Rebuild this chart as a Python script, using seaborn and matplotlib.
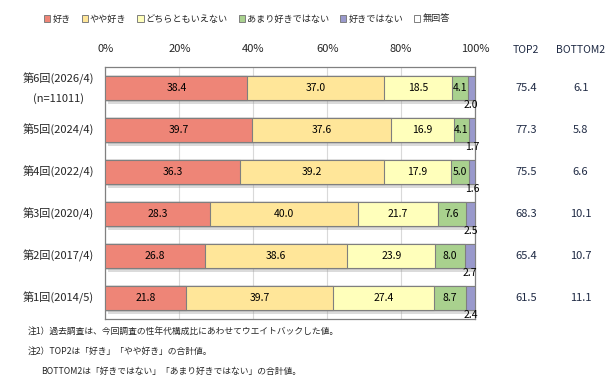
import numpy as np
import pandas as pd
import matplotlib
matplotlib.use("Agg")
import matplotlib.pyplot as plt
import matplotlib.patheffects as pe
from matplotlib.patches import Patch
import seaborn as sns

# data
waves = ["第6回(2026/4)\n(n=11011)", "第5回(2024/4)", "第4回(2022/4)",
         "第3回(2020/4)", "第2回(2017/4)", "第1回(2014/5)"]
answers = ["好き", "やや好き", "どちらともいえない", "あまり好きではない", "好きではない", "無回答"]
suki = [38.4, 39.7, 36.3, 28.3, 26.8, 21.8]
yaya = [37.0, 37.6, 39.2, 40.0, 38.6, 39.7]
dochira = [18.5, 16.9, 17.9, 21.7, 23.9, 27.4]
amari = [4.1, 4.1, 5.0, 7.6, 8.0, 8.7]
sukidenai = [2.0, 1.7, 1.6, 2.5, 2.7, 2.4]
mukaito = [0.0, 0.0, 0.0, 0.0, 0.0, 0.0]
top2 = ["75.4", "77.3", "75.5", "68.3", "65.4", "61.5"]
bottom2 = ["6.1", "5.8", "6.6", "10.1", "10.7", "11.1"]

colors = ["#EE8577", "#FFE699", "#FFFFBB", "#A9D18E", "#9999CC", "#FFFFFF"]

sns.set_theme(style="white")
plt.rcParams["font.family"] = ["Noto Sans CJK JP", "DejaVu Sans"]

series = [suki, yaya, dochira, amari, sukidenai, mukaito]
vals = np.array(series)
cum = np.cumsum(vals, axis=0)
left = cum - vals

fig = plt.figure(figsize=(6.08, 3.87), dpi=100)
ax = fig.add_axes([0.1735, 0.1757, 0.6077, 0.6512])

bw = 0.58
# layered bars: widest cumulative first
for k in range(len(answers) - 1, -1, -1):
    df = pd.DataFrame({"wave": waves, "x": cum[k]})
    sns.barplot(data=df, x="x", y="wave", orient="h", order=waves,
                color=colors[k], saturation=1, width=bw,
                edgecolor="#7F7F7F", linewidth=0.8, ax=ax, zorder=3)

# shadow on the outermost bars
for p in ax.patches[:len(waves)]:
    p.set_path_effects([pe.SimplePatchShadow(offset=(1.5, -3), shadow_rgbFace="#999999", alpha=0.35),
                        pe.Normal()])

# labels
for k in range(5):
    for i in range(len(waves)):
        v = vals[k, i]
        xc = left[k, i] + v / 2
        if k == 4:
            ax.text(xc, i + bw / 2, f"{v:.1f}", ha="center", va="top",
                    fontsize=7.5, color="#000000", zorder=5)
        else:
            ax.text(xc, i, f"{v:.1f}", ha="center", va="center",
                    fontsize=7.5, color="#000000", zorder=5)

ax.set_xlim(0, 100)
ax.set_ylim(5.5, -0.5)
ax.set_xticks([0, 20, 40, 60, 80, 100])
ax.set_xticklabels(["0%", "20%", "40%", "60%", "80%", "100%"], fontsize=8)
ax.xaxis.tick_top()
ax.tick_params(axis="x", length=0, pad=9)
ax.set_yticklabels([])
ax.tick_params(axis="y", length=0)
ax.set_xlabel("")
ax.set_ylabel("")
ax.grid(axis="x", color="#D9D9D9", linewidth=0.8, zorder=0)
ax.set_axisbelow(True)
for s in ax.spines.values():
    s.set_color("#808080")
    s.set_linewidth(0.9)

# category labels, TOP2 / BOTTOM2 columns
tx, bx = 0.865, 0.955
fig.text(tx, 1 - 50 / 387, "TOP2", ha="center", va="center", fontsize=7.5, color="#1F2A44")
fig.text(bx, 1 - 50 / 387, "BOTTOM2", ha="center", va="center", fontsize=7.5, color="#1F2A44")
for i in range(len(waves)):
    yy = ax.transData.transform((0, i))[1]
    yf = fig.transFigure.inverted().transform((0, yy))[1]
    fig.text(58 / 608, yf, waves[i], ha="center", va="center",
             fontsize=8, linespacing=1.9)
    fig.text(tx, yf, top2[i], ha="center", va="center", fontsize=8, color="#1F2A44")
    fig.text(bx, yf, bottom2[i], ha="center", va="center", fontsize=8, color="#1F2A44")

# legend
handles = [Patch(facecolor=c, edgecolor="#7F7F7F", linewidth=0.7) for c in colors]
fig.legend(handles, answers, loc="center", bbox_to_anchor=(0.406, 1 - 19 / 387),
           ncol=6, frameon=False, fontsize=6.6, handlelength=0.7, handleheight=0.7,
           handletextpad=0.2, columnspacing=1.2)

# notes
fig.text(28 / 608, 1 - 331 / 387, "注1）過去調査は、今回調査の性年代構成比にあわせてウエイトバックした値。",
         ha="left", va="center", fontsize=6.3)
fig.text(28 / 608, 1 - 351 / 387, "注2）TOP2は「好き」「やや好き」の合計値。",
         ha="left", va="center", fontsize=6.3)
fig.text(41 / 608, 1 - 371 / 387, "BOTTOM2は「好きではない」「あまり好きではない」の合計値。",
         ha="left", va="center", fontsize=6.3)

fig.savefig("out.png", dpi=100)
